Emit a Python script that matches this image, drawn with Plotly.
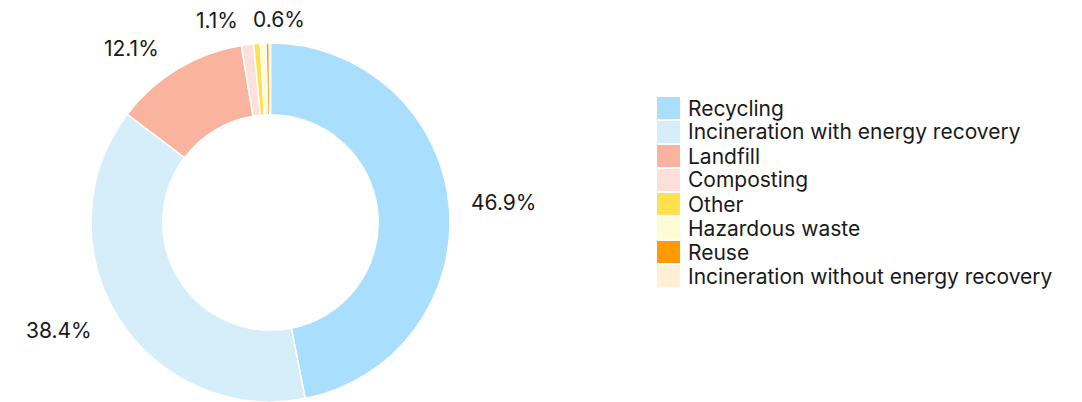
import math
import plotly.graph_objects as go

categories = ["Recycling", "Incineration with energy recovery", "Landfill", "Composting",
              "Other", "Hazardous waste", "Reuse", "Incineration without energy recovery"]
values = [46.9, 38.4, 12.1, 1.1, 0.6, 0.5, 0.3, 0.1]
shown_labels = ["46.9%", "38.4%", "12.1%", "1.1%", "0.6%", "", "", ""]
colors = ["#a9defc", "#d5eef9", "#f9b39f", "#fde0da", "#ffe14d", "#fffbd3", "#ff9a00", "#fff0d5"]

FONT = "Inter, Liberation Sans, Arial, sans-serif"
FS = 21
TXT = "#1a1a1a"
W, H = 1082, 402

# pie placement (pixels)
pie_w, pie_h = 541, 359
cx, cy = pie_w / 2, H - pie_h / 2
R = pie_h / 2


def px(x):
    return x / W


def py(y):
    return (H - y) / H


fig = go.Figure()
fig.add_trace(go.Pie(
    labels=categories,
    values=values,
    textinfo="none",
    hole=0.6,
    sort=False,
    direction="clockwise",
    rotation=0,
    marker=dict(colors=colors, line=dict(color="white", width=1.5)),
    domain=dict(x=[0, pie_w / W], y=[0, pie_h / H]),
    showlegend=False,
    hoverinfo="label+percent",
))

annotations, shapes = [], []

# outside percentage labels, placed at each slice's mid-angle
total = sum(values)
label_r = R + 24
label_dx = -4
cum = 0.0
placed = []
for v, t in zip(values, shown_labels):
    mid = (cum + v / 2) / total * 2 * math.pi
    cum += v
    if not t:
        continue
    x = cx + label_dx + label_r * math.sin(mid)
    y = cy - label_r * math.cos(mid)
    w = len(t) * 0.6 * FS
    anchor = "left" if math.sin(mid) >= 0 else "right"
    x0 = x if anchor == "left" else x - w
    # avoid overlap with already placed labels by flipping to the other side
    for (a0, a1, b0, b1) in placed:
        if x0 < a1 and x0 + w > a0 and y - FS / 2 < b1 and y + FS / 2 > b0:
            anchor = "left" if anchor == "right" else "right"
            x0 = x if anchor == "left" else x - w
            break
    placed.append((x0, x0 + w, y - FS / 2, y + FS / 2))
    annotations.append(dict(xref="paper", yref="paper", x=px(x), y=py(y), text=t,
                            showarrow=False, xanchor=anchor, yanchor="middle",
                            font=dict(family=FONT, size=FS, color=TXT)))

# legend built from the category list (square swatches + labels)
lx0, ly0, pitch, sw, sh = 657, 97, 24, 23, 22
for i, (cat, col) in enumerate(zip(categories, colors)):
    y = ly0 + i * pitch
    shapes.append(dict(type="rect", xref="paper", yref="paper",
                       x0=px(lx0), x1=px(lx0 + sw), y0=py(y + sh), y1=py(y),
                       fillcolor=col, line=dict(width=0), layer="above"))
    annotations.append(dict(xref="paper", yref="paper", x=px(lx0 + 29), y=py(y + sh / 2),
                            text=cat, showarrow=False, xanchor="left", yanchor="middle",
                            font=dict(family=FONT, size=FS, color=TXT)))

fig.update_layout(
    width=W, height=H,
    margin=dict(l=0, r=0, t=0, b=0, pad=0, autoexpand=False),
    paper_bgcolor="white", plot_bgcolor="white",
    shapes=shapes, annotations=annotations,
    font=dict(family=FONT),
)
fig.write_html("out.html")
